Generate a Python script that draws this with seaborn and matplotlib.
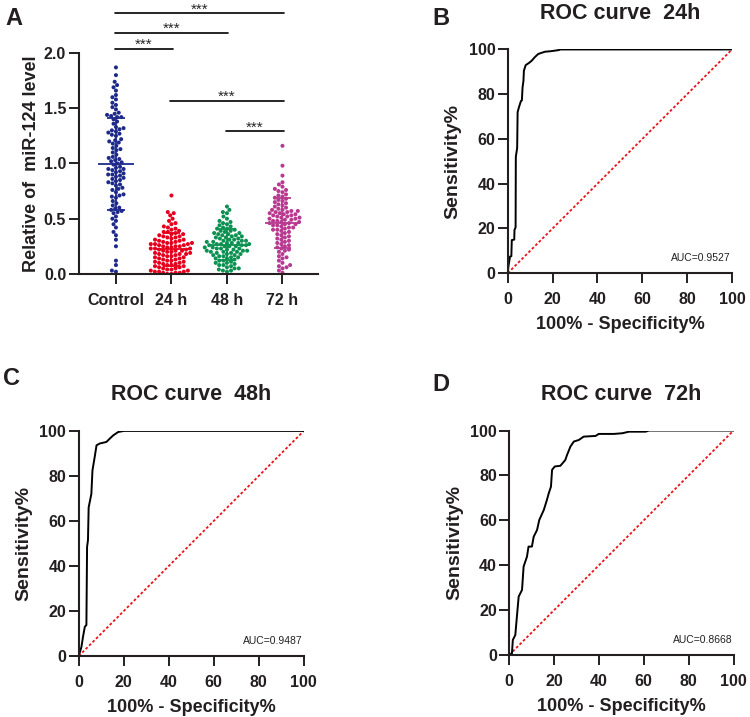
import numpy as np
import pandas as pd
import matplotlib
matplotlib.use("Agg")
import matplotlib.pyplot as plt
import seaborn as sns

# ---- data ----
groups = ["Control", "24 h", "48 h", "72 h"]
colors = ["#1e2a8a", "#e5001e", "#0b9150", "#b83a90"]

control = [1.87, 1.80, 1.74, 1.71, 1.69, 1.66, 1.62, 1.60, 1.58, 1.55, 1.53, 1.51, 1.49, 1.46, 1.44,
           1.43, 1.42, 1.42, 1.40, 1.38, 1.33, 1.31, 1.30, 1.29, 1.28, 1.27, 1.25, 1.22, 1.21, 1.20,
           1.18, 1.16, 1.14, 1.12, 1.10, 1.08, 1.06, 1.05, 1.03, 1.02, 1.01, 1.00, 0.99, 0.97, 0.96,
           0.95, 0.94, 0.93, 0.92, 0.91, 0.90, 0.89, 0.88, 0.87, 0.86, 0.85, 0.84, 0.83, 0.82, 0.80,
           0.78, 0.77, 0.76, 0.74, 0.72, 0.71, 0.70, 0.69, 0.66, 0.64, 0.62, 0.60, 0.59, 0.58, 0.57,
           0.56, 0.55, 0.52, 0.50, 0.48, 0.45, 0.42, 0.38, 0.35, 0.31, 0.25, 0.12, 0.08, 0.03, 0.02,
           1.45, 1.32, 1.26, 1.13, 1.04, 0.95, 0.90, 0.81, 1.19, 1.36]
h24 = [0.71, 0.56, 0.55, 0.53, 0.50, 0.48, 0.46, 0.45, 0.43, 0.42, 0.41, 0.40, 0.39, 0.38, 0.38,
       0.37, 0.36, 0.36, 0.35, 0.34, 0.34, 0.33, 0.33, 0.32, 0.31, 0.31, 0.30, 0.30, 0.29, 0.29,
       0.28, 0.28, 0.28, 0.27, 0.27, 0.27, 0.26, 0.26, 0.25, 0.25, 0.25, 0.24, 0.24, 0.23, 0.23,
       0.23, 0.22, 0.22, 0.21, 0.21, 0.21, 0.20, 0.20, 0.19, 0.19, 0.18, 0.18, 0.18, 0.17, 0.17,
       0.16, 0.16, 0.15, 0.15, 0.14, 0.14, 0.13, 0.13, 0.12, 0.12, 0.11, 0.11, 0.10, 0.10, 0.09,
       0.09, 0.08, 0.08, 0.07, 0.07, 0.06, 0.06, 0.05, 0.05, 0.04, 0.04, 0.03, 0.03, 0.02, 0.02,
       0.02, 0.01, 0.01, 0.01, 0.00, 0.00]
h48 = [0.61, 0.58, 0.56, 0.55, 0.52, 0.50, 0.48, 0.47, 0.46, 0.45, 0.44, 0.43, 0.42, 0.41, 0.41,
       0.40, 0.39, 0.39, 0.38, 0.37, 0.37, 0.36, 0.36, 0.35, 0.35, 0.34, 0.34, 0.33, 0.33, 0.32,
       0.32, 0.31, 0.31, 0.30, 0.30, 0.30, 0.29, 0.29, 0.28, 0.28, 0.28, 0.27, 0.27, 0.27, 0.26,
       0.26, 0.26, 0.25, 0.25, 0.25, 0.24, 0.24, 0.23, 0.23, 0.23, 0.22, 0.22, 0.21, 0.21, 0.21,
       0.20, 0.20, 0.20, 0.19, 0.19, 0.18, 0.18, 0.17, 0.17, 0.16, 0.16, 0.15, 0.15, 0.14, 0.14,
       0.13, 0.12, 0.12, 0.11, 0.10, 0.10, 0.09, 0.08, 0.08, 0.07, 0.06, 0.05, 0.05, 0.04, 0.03,
       0.03, 0.02]
h72 = [1.16, 0.98, 0.89, 0.83, 0.81, 0.79, 0.77, 0.76, 0.75, 0.74, 0.72, 0.71, 0.70, 0.69, 0.68,
       0.67, 0.66, 0.65, 0.64, 0.63, 0.62, 0.61, 0.60, 0.59, 0.58, 0.58, 0.57, 0.57, 0.56, 0.56,
       0.55, 0.55, 0.54, 0.54, 0.53, 0.53, 0.52, 0.52, 0.51, 0.51, 0.50, 0.50, 0.49, 0.49, 0.48,
       0.48, 0.47, 0.47, 0.46, 0.46, 0.45, 0.45, 0.44, 0.44, 0.43, 0.42, 0.42, 0.41, 0.40, 0.40,
       0.39, 0.38, 0.37, 0.36, 0.35, 0.34, 0.33, 0.32, 0.31, 0.30, 0.29, 0.28, 0.27, 0.26, 0.25,
       0.24, 0.23, 0.22, 0.21, 0.20, 0.18, 0.16, 0.15, 0.14, 0.12, 0.10, 0.08, 0.07, 0.06, 0.05,
       0.03, 0.01]

# significance brackets: (group i, group j, y)
sig_pairs = [(0, 3, 2.36), (0, 2, 2.18), (0, 1, 2.04), (1, 3, 1.57), (2, 3, 1.29)]

# ROC curves (100% - specificity, sensitivity)
roc_24_x = [0, 0.3, 1.0, 1.6, 1.8, 2.9, 3.0, 3.5, 3.6, 4.2, 4.4, 5.0, 5.9, 6.3, 6.6, 7.0, 7.2, 8.0,
            9.5, 10.7, 12.0, 13.6, 16.6, 19.0, 22.6, 23.5, 100]
roc_24_y = [0, 3.0, 7.4, 7.6, 14.8, 15.0, 19.3, 20.5, 52.0, 56.0, 72.0, 74.2, 77.0, 77.2, 83.0, 86.0,
            90.5, 93.0, 94.0, 95.0, 96.5, 98.0, 99.0, 99.2, 99.7, 100, 100]
roc_48_x = [0, 1.2, 1.9, 2.7, 3.4, 3.7, 4.1, 4.4, 5.6, 6.1, 7.1, 7.9, 9.3, 12.3, 13.8, 15.3, 17.5,
            20.0, 100]
roc_48_y = [0, 4.1, 8.6, 13.0, 13.8, 48.5, 51.5, 66.0, 72.0, 82.5, 88.5, 93.6, 94.4, 95.1, 96.6,
            98.0, 99.5, 100, 100]
roc_72_x = [0, 1.2, 1.6, 2.7, 3.4, 4.2, 5.7, 6.4, 7.9, 8.6, 10.1, 10.9, 12.4, 13.4, 15.4, 16.8,
            17.6, 18.6, 19.1, 20.3, 22.8, 25.0, 25.8, 27.3, 28.8, 31.0, 33.2, 38.5, 39.9, 46.6, 50.4,
            53.4, 60.8, 62.3, 100]
roc_72_y = [0, 0.7, 6.7, 8.9, 17.0, 26.0, 29.0, 39.4, 43.8, 48.3, 48.3, 52.7, 55.7, 60.2, 64.6,
            69.1, 72.0, 75.0, 82.5, 84.0, 84.3, 86.9, 89.2, 92.9, 95.1, 95.8, 97.3, 97.6, 98.5, 98.5,
            98.8, 99.5, 99.5, 100, 100]
auc_values = ["0.9527", "0.9487", "0.8668"]
roc_titles = ["ROC curve  24h", "ROC curve  48h", "ROC curve  72h"]

# ---- style ----
sns.set_style("ticks")
plt.rcParams["font.family"] = ["Liberation Sans", "DejaVu Sans"]
ink = "#231f20"

fig = plt.figure(figsize=(7.5, 7.17), dpi=100)

def style_axes(ax):
    for side in ["left", "bottom"]:
        ax.spines[side].set_linewidth(1.5)
        ax.spines[side].set_color(ink)
    sns.despine(ax=ax)
    ax.tick_params(width=1.4, length=7, color=ink, labelcolor=ink, labelsize=11.5)
    ax.tick_params(axis="y", pad=2)
    ax.tick_params(axis="x", pad=6.5)
    for lab in ax.get_xticklabels() + ax.get_yticklabels():
        lab.set_fontweight("bold")

# ---- panel A: scatter ----
df = pd.DataFrame({
    "group": ["Control"] * len(control) + ["24 h"] * len(h24) + ["48 h"] * len(h48) + ["72 h"] * len(h72),
    "value": control + h24 + h48 + h72,
})
axA = fig.add_axes([0.105, 0.618, 0.319, 0.308])
sns.swarmplot(data=df, x="group", y="value", hue="group", order=groups,
              palette=dict(zip(groups, colors)), size=2.9, legend=False, ax=axA, zorder=2)

for i, vals in enumerate([control, h24, h48, h72]):
    m = np.mean(vals)
    s = np.std(vals, ddof=1)
    axA.hlines(m, i - 0.32, i + 0.32, color=colors[i], lw=1.3, zorder=3)
    axA.hlines([m - s, m + s], i - 0.16, i + 0.16, color=colors[i], lw=1.3, zorder=3)
    axA.vlines(i, m - s, m + s, color=colors[i], lw=1.3, zorder=3)

for i, j, y in sig_pairs:
    axA.plot([i - 0.02, j + 0.02], [y, y], color="black", lw=1.2, clip_on=False)
    axA.text((i + j) / 2, y, "***", ha="center", va="baseline", fontsize=11, clip_on=False)

axA.set_xlim(-0.67, 3.64)
axA.set_ylim(0, 2.0)
axA.set_yticks([0, 0.5, 1.0, 1.5, 2.0])
axA.set_yticklabels(["0.0", "0.5", "1.0", "1.5", "2.0"])
axA.set_xlabel("")
axA.set_ylabel("Relative of  miR-124 level", fontsize=13, fontweight="bold", color=ink, labelpad=3)
style_axes(axA)
fig.text(0.007, 0.965, "A", fontsize=17, fontweight="bold", color=ink)

# ---- ROC panels ----
roc_pos = [[0.677, 0.619, 0.299, 0.312], [0.105, 0.085, 0.300, 0.314], [0.679, 0.0865, 0.299, 0.313]]
roc_data = [(roc_24_x, roc_24_y), (roc_48_x, roc_48_y), (roc_72_x, roc_72_y)]
letters = [("B", 0.576, 0.965), ("C", 0.004, 0.463), ("D", 0.576, 0.455)]

for k in range(3):
    ax = fig.add_axes(roc_pos[k])
    rx, ry = roc_data[k]
    sns.lineplot(x=[0, 100], y=[0, 100], color="#e8141c", lw=1.3, linestyle=(0, (1.5, 1.2)),
                 ax=ax, sort=False)
    sns.lineplot(x=rx, y=ry, color="black", lw=1.4, ax=ax, sort=False, estimator=None)
    ax.set_xlim(0, 100)
    ax.set_ylim(0, 100)
    ax.set_xticks(range(0, 101, 20))
    ax.set_yticks(range(0, 101, 20))
    ax.set_xlabel("100% - Specificity%", fontsize=13, fontweight="bold", color=ink, labelpad=6.5)
    ax.set_ylabel("Sensitivity%", fontsize=14, fontweight="bold", color=ink, labelpad=5)
    ax.set_title(roc_titles[k], fontsize=15.5, fontweight="bold", color=ink, pad=22)
    ax.text(99.5, 5.4, "AUC=" + auc_values[k], ha="right", va="baseline", fontsize=7.5, color=ink)
    style_axes(ax)
    fig.text(letters[k][1], letters[k][2], letters[k][0], fontsize=17, fontweight="bold", color=ink)

fig.savefig("out.png", dpi=100)
